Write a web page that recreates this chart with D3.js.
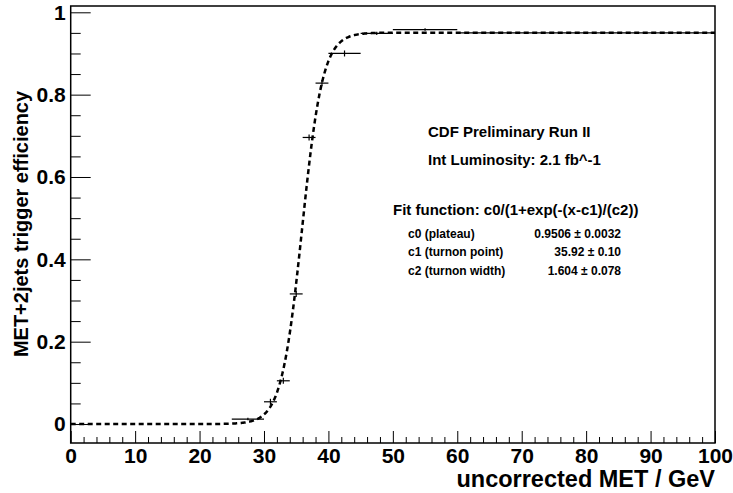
<!DOCTYPE html>
<html>
<head>
<meta charset="utf-8">
<script src="https://cdn.jsdelivr.net/npm/d3@7"></script>
<style>
  html, body { margin: 0; padding: 0; background: #fff; }
  svg { display: block; font-family: "Liberation Sans", Arial, Helvetica, sans-serif; font-weight: bold; }
</style>
</head>
<body>
<svg id="chart" width="733" height="493"></svg>
<script>
// Measured trigger efficiency per MET bin
const binCenter = [27.5, 31, 33, 35, 37, 39, 42.5, 47.5, 55, 80];
const binHalfWidth = [2.5, 1, 1, 1, 1, 1, 2.5, 2.5, 5, 20];
const efficiency = [0.012, 0.054, 0.105, 0.316, 0.696, 0.828, 0.900, 0.949, 0.958, 0.950];
const efficiencyErr = [0.003, 0.008, 0.010, 0.017, 0.022, 0.015, 0.008, 0.004, 0.003, 0.002];

// Sigmoid fit parameters: c0 plateau, c1 turn-on point, c2 turn-on width
const fitNames = ["c0 (plateau)", "c1 (turnon point)", "c2 (turnon width)"];
const fitValues = [0.9506, 35.92, 1.604];
const fitValueText = ["0.9506", "35.92", "1.604"];
const fitErrorText = ["0.0032", "0.10", "0.078"];

const xTicks = [0, 10, 20, 30, 40, 50, 60, 70, 80, 90, 100];
const yTicks = [0, 0.2, 0.4, 0.6, 0.8, 1];
const yTickLabels = ["0", "0.2", "0.4", "0.6", "0.8", "1"];

const svg = d3.select("#chart");
const frame = { left: 70.7, right: 715, top: 6, bottom: 443 };

const x = d3.scaleLinear().domain([0, 100]).range([frame.left, frame.right]);
const y = d3.scaleLinear().domain([-0.0461, 1.0153]).range([frame.bottom, frame.top]);

// Minor ticks (no labels)
const xMinor = d3.range(0, 100.001, 2).filter(v => v % 10 !== 0);
const yMinor = d3.range(-0.0, 1.0001, 0.05).filter(v => Math.abs(v * 5 - Math.round(v * 5)) > 1e-6);

svg.append("g")
  .attr("transform", `translate(0,${frame.bottom})`)
  .call(d3.axisBottom(x).tickValues(xMinor).tickSize(-6).tickFormat(""))
  .call(g => g.select(".domain").remove())
  .call(g => g.selectAll("line").attr("stroke", "#000").attr("stroke-width", 1));

svg.append("g")
  .attr("transform", `translate(0,${frame.bottom})`)
  .call(d3.axisBottom(x).tickValues(xTicks).tickSize(-12).tickPadding(5).tickFormat(d3.format("d")))
  .call(g => g.select(".domain").remove())
  .call(g => g.selectAll("line").attr("stroke", "#000").attr("stroke-width", 1))
  .call(g => g.selectAll("text").attr("font-size", 21).attr("font-family", null).attr("fill", "#000"));

svg.append("g")
  .attr("transform", `translate(${frame.left},0)`)
  .call(d3.axisLeft(y).tickValues(yMinor).tickSize(-10).tickFormat(""))
  .call(g => g.select(".domain").remove())
  .call(g => g.selectAll("line").attr("stroke", "#000").attr("stroke-width", 1));

svg.append("g")
  .attr("transform", `translate(${frame.left},0)`)
  .call(d3.axisLeft(y).tickValues(yTicks).tickSize(-20).tickPadding(5)
    .tickFormat((d, i) => yTickLabels[i]))
  .call(g => g.select(".domain").remove())
  .call(g => g.selectAll("line").attr("stroke", "#000").attr("stroke-width", 1))
  .call(g => g.selectAll("text").attr("font-size", 21).attr("font-family", null).attr("fill", "#000"));

// Frame box
svg.append("rect")
  .attr("x", frame.left).attr("y", frame.top)
  .attr("width", frame.right - frame.left).attr("height", frame.bottom - frame.top)
  .attr("fill", "none").attr("stroke", "#000").attr("stroke-width", 1.5);

// Axis titles
svg.append("text")
  .attr("x", frame.right).attr("y", 487)
  .attr("text-anchor", "end").attr("font-size", 23.5)
  .text("uncorrected MET / GeV");

svg.append("text")
  .attr("transform", "translate(28,224) rotate(-90)")
  .attr("text-anchor", "middle").attr("font-size", 20)
  .text("MET+2jets trigger efficiency");

// Fitted turn-on curve
const sigmoid = v => fitValues[0] / (1 + Math.exp(-(v - fitValues[1]) / fitValues[2]));
const curveX = d3.range(0, 100.001, 0.1);
svg.append("path")
  .datum(curveX)
  .attr("fill", "none").attr("stroke", "#000").attr("stroke-width", 2.5)
  .attr("stroke-dasharray", "5,3.5")
  .attr("d", d3.line().x(d => x(d)).y(d => y(sigmoid(d))));

// Data points with error bars
const pts = svg.append("g").selectAll("g").data(binCenter.map((c, i) => i)).join("g");
pts.append("line")
  .attr("x1", i => x(binCenter[i] - binHalfWidth[i])).attr("x2", i => x(binCenter[i] + binHalfWidth[i]))
  .attr("y1", i => y(efficiency[i])).attr("y2", i => y(efficiency[i]))
  .attr("stroke", "#000").attr("stroke-width", 1.2);
pts.append("line")
  .attr("x1", i => x(binCenter[i])).attr("x2", i => x(binCenter[i]))
  .attr("y1", i => Math.min(y(efficiency[i] - efficiencyErr[i]), y(efficiency[i]) + 3))
  .attr("y2", i => Math.max(y(efficiency[i] + efficiencyErr[i]), y(efficiency[i]) - 3))
  .attr("stroke", "#000").attr("stroke-width", 1.2);

// Annotation block
const notes = svg.append("g").attr("font-size", 15);
notes.append("text").attr("x", 428).attr("y", 137).text("CDF Preliminary Run II");
notes.append("text").attr("x", 428).attr("y", 165).text("Int Luminosity: 2.1 fb^-1");
notes.append("text").attr("x", 393).attr("y", 215).text("Fit function: c0/(1+exp(-(x-c1)/(c2))");

const rowY = [238, 256, 275];
const params = svg.append("g").attr("font-size", 12);
params.selectAll("text.name").data(fitNames).join("text")
  .attr("class", "name").attr("x", 408).attr("y", (d, i) => rowY[i]).text(d => d);
params.selectAll("text.val").data(fitValueText).join("text")
  .attr("class", "val").attr("x", 621).attr("y", (d, i) => rowY[i]).attr("text-anchor", "end")
  .text((d, i) => `${d} \u00b1 ${fitErrorText[i]}`);
</script>
</body>
</html>
